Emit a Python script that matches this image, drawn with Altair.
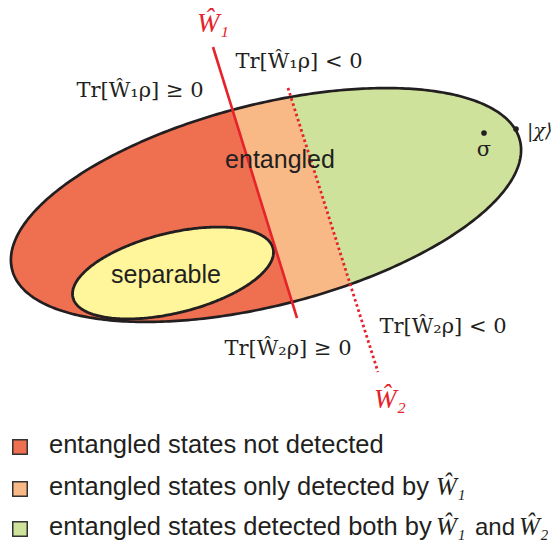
import numpy as np
import pandas as pd
import altair as alt

# ---------------- values (pixel coords) -------------
OUTER_CENTER = [266.0, 205.0]
OUTER_SEMI_AXES = [262.0, 100.5]
OUTER_TILT_DEG = 14.3
SEP_CENTER = [173.0, 273.0]
SEP_SEMI_AXES = [103.0, 40.0]
SEP_TILT_DEG = 13.8
W1_ENDS = [[213.0, 47.0], [297.0, 318.0]]
W2_ENDS = [[288.0, 88.0], [378.0, 372.0]]

DOT_X = [484.0, 516.0]
DOT_Y = [133.0, 129.0]

REGION_NAMES = ["not detected", "only W1", "both"]
REGION_COLORS = ["#EF6F51", "#F9B986", "#CFE29C"]
SEP_COLOR = "#FFF59B"
RED = "#E6222A"
INK = "#231F20"

# serif formula labels
TR_LABELS = ["Tr[\u0174\u2081\u03c1] \u2265 0", "Tr[\u0174\u2081\u03c1] < 0",
             "Tr[\u0174\u2082\u03c1] \u2265 0", "Tr[\u0174\u2082\u03c1] < 0"]
TR_X = [140, 299, 288, 443]
TR_Y = [97, 68, 355, 333]

# red witness labels
W_LABELS = ["\u0174\u2081", "\u0174\u2082"]
W_X = [213, 390]
W_Y = [32, 408]

# sans labels inside the diagram
SANS_LABELS = ["entangled", "separable"]
SANS_X = [280, 166]
SANS_Y = [168, 283]

# legend
LEG_TEXT = ["entangled states not detected",
            "entangled states only detected by",
            "entangled states detected both by"]
LEG_X = [20, 20, 20]
LEG_Y = [447, 489, 529]
LEG_TEXT_X = [49, 49, 49]
LEG_TEXT_Y = [453, 495, 535]
LEG_MATH = ["\u0174\u2081", "\u0174\u2081", "\u0174\u2082"]
LEG_MATH_X = [436, 436, 519]
LEG_MATH_Y = [495, 535, 535]
LEG_AND = ["and"]
LEG_AND_X = [475]
LEG_AND_Y = [535]

PROJ = dict(type="identity", scale=1, translate=[-8, -8])


def ellipse(c, ax, tilt, n=400):
    t = np.linspace(0, 2 * np.pi, n, endpoint=False)
    th = np.radians(tilt)
    u = ax[0] * np.cos(t) * np.cos(th) - ax[1] * np.sin(t) * np.sin(th)
    v = ax[0] * np.cos(t) * np.sin(th) + ax[1] * np.sin(t) * np.cos(th)
    return [(c[0] + a, c[1] - b) for a, b in zip(u, v)]


def side(line, p):
    (x1, y1), (x2, y2) = line
    return (x2 - x1) * (p[1] - y1) - (y2 - y1) * (p[0] - x1)


def clip(poly, line, sign):
    out = []
    n = len(poly)
    for i in range(n):
        P, Q = poly[i], poly[(i + 1) % n]
        sp, sq = side(line, P) * sign, side(line, Q) * sign
        if sp >= 0:
            out.append(P)
        if (sp >= 0) != (sq >= 0):
            t = sp / (sp - sq)
            out.append((P[0] + t * (Q[0] - P[0]), P[1] + t * (Q[1] - P[1])))
    return out


def poly_feature(ring):
    coords = [[round(x, 2), round(y, 2)] for x, y in ring]
    coords.append(coords[0])
    return {"type": "Feature", "properties": {},
            "geometry": {"type": "Polygon", "coordinates": [coords]}}


def line_feature(pts):
    return {"type": "Feature", "properties": {},
            "geometry": {"type": "LineString", "coordinates": pts}}


outer = ellipse(OUTER_CENTER, OUTER_SEMI_AXES, OUTER_TILT_DEG)
sep = ellipse(SEP_CENTER, SEP_SEMI_AXES, SEP_TILT_DEG)
regions = [
    clip(outer, W1_ENDS, 1),
    clip(clip(outer, W1_ENDS, -1), W2_ENDS, 1),
    clip(outer, W2_ENDS, -1),
]

layers = []
for ring, col in zip(regions, REGION_COLORS):
    layers.append(alt.Chart(alt.Data(values=[poly_feature(ring)]))
                  .mark_geoshape(fill=col, stroke=col, strokeWidth=0.8)
                  .project(**PROJ))

# outer outline
layers.append(alt.Chart(alt.Data(values=[poly_feature(outer)]))
              .mark_geoshape(filled=False, stroke=INK, strokeWidth=2.7)
              .project(**PROJ))
# separable
layers.append(alt.Chart(alt.Data(values=[poly_feature(sep)]))
              .mark_geoshape(fill=SEP_COLOR, stroke=INK, strokeWidth=2.8)
              .project(**PROJ))
# witness lines
layers.append(alt.Chart(alt.Data(values=[line_feature(W1_ENDS)]))
              .mark_geoshape(filled=False, stroke=RED, strokeWidth=2.6)
              .project(**PROJ))
layers.append(alt.Chart(alt.Data(values=[line_feature(W2_ENDS)]))
              .mark_geoshape(filled=False, stroke=RED, strokeWidth=2.8,
                             strokeDash=[2.6, 2.8])
              .project(**PROJ))

# dots
dots = pd.DataFrame({"x": DOT_X, "y": DOT_Y})
layers.append(alt.Chart(dots).mark_circle(size=32, color=INK, opacity=1)
              .encode(longitude="x:Q", latitude="y:Q").project(**PROJ))


def text_layer(labels, xs, ys, **kw):
    df = pd.DataFrame({"x": xs, "y": ys, "label": labels})
    return (alt.Chart(df).mark_text(**kw)
            .encode(longitude="x:Q", latitude="y:Q", text="label:N")
            .project(**PROJ))


layers.append(text_layer(TR_LABELS, TR_X, TR_Y, font="DejaVu Serif", fontSize=21,
                         align="center", baseline="alphabetic", color=INK))
layers.append(text_layer(W_LABELS, W_X, W_Y, font="Liberation Serif", fontSize=27,
                         fontStyle="italic", align="center", baseline="alphabetic",
                         color=RED))
layers.append(text_layer(SANS_LABELS, SANS_X, SANS_Y, font="Liberation Sans",
                         fontSize=25, align="center", baseline="alphabetic",
                         color=INK))
layers.append(text_layer(["\u03c3"], [484], [150], font="DejaVu Serif",
                         fontSize=21, align="center", baseline="middle", color=INK))
layers.append(text_layer(["|\u03c7\u27e9"], [527], [131], font="DejaVu Serif",
                         fontSize=19, fontStyle="italic", align="left",
                         baseline="middle", color=INK))

# legend
leg = pd.DataFrame({"x": LEG_X, "y": LEG_Y, "name": REGION_NAMES})
layers.append(alt.Chart(leg).mark_square(size=210, opacity=1, stroke="#333333",
                                         strokeWidth=1.5, filled=True)
              .encode(longitude="x:Q", latitude="y:Q",
                      fill=alt.Fill("name:N",
                                    scale=alt.Scale(domain=REGION_NAMES,
                                                    range=REGION_COLORS),
                                    legend=None))
              .project(**PROJ))
layers.append(text_layer(LEG_TEXT, LEG_TEXT_X, LEG_TEXT_Y, font="Liberation Sans",
                         fontSize=25.5, align="left", baseline="alphabetic",
                         color=INK))
layers.append(text_layer(LEG_MATH, LEG_MATH_X, LEG_MATH_Y, font="Liberation Serif",
                         fontSize=25, fontStyle="italic", align="left",
                         baseline="alphabetic", color=INK))
layers.append(text_layer(LEG_AND, LEG_AND_X, LEG_AND_Y, font="Liberation Sans",
                         fontSize=24, align="left", baseline="alphabetic",
                         color=INK))

chart = (alt.layer(*layers)
         .properties(width=543, height=536, padding=0, autosize="none",
                     background="white")
         .configure_view(strokeWidth=0))

chart.save("out.html", embed_options={"renderer": "svg", "actions": False})
